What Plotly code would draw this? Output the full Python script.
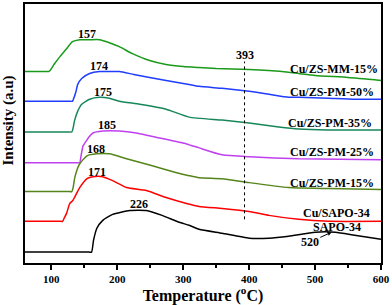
import plotly.graph_objects as go

# ---- data (temperature in °C, intensity in a.u.) ----
t_mm15 = [60, 90, 96, 98, 105, 113, 123, 132, 143, 158, 173, 188, 203, 223, 249, 274, 300, 324, 350, 400, 450, 475, 500, 550, 600]
i_mm15 = [193, 193, 193, 194, 201, 208, 216, 223, 225, 225, 225, 222, 218, 211, 204, 200, 198, 197, 196, 195, 193, 191, 189, 187, 184]

t_pm50 = [60, 127, 132, 134, 137, 140, 146, 158, 173, 188, 203, 225, 249, 274, 300, 324, 359, 400, 430, 460, 475, 520, 560, 600]
i_pm50 = [163, 163, 163, 166, 172, 180, 186, 191, 193, 193, 193, 190, 187, 184, 181, 178, 176, 173, 170, 167, 167, 166, 165, 165]

t_pm35 = [60, 126, 131, 133, 135, 140, 146, 158, 173, 188, 203, 234, 274, 309, 359, 400, 445, 475, 520, 600]
i_pm35 = [132, 132, 132, 136, 143, 153, 160, 165, 167, 166, 163, 160, 155, 147, 144, 141, 137, 135, 134, 134]

t_pm25 = [60, 139, 143, 145, 148, 151, 157, 163, 178, 203, 229, 264, 305, 324, 359, 400, 475, 600]
i_pm25 = [101, 101, 101, 108, 118, 121, 127, 131, 133, 133, 131, 126, 120, 116, 109, 107, 105, 104]

t_pm15 = [60, 126, 131, 133, 135.5, 139, 143, 154, 169, 188, 214, 253, 290, 309, 324, 359, 400, 460, 521, 600]
i_pm15 = [72, 72, 72, 76, 86, 94, 100, 108, 110, 110, 105, 98, 91, 88, 86, 85, 81, 76, 75, 74]

t_cusapo = [60, 112, 117, 120, 123, 128, 132.5, 143, 154, 163, 178, 193, 214, 244, 274, 305, 324, 359, 400, 430, 475, 521, 600]
i_cusapo = [42, 42, 42, 46, 50, 60, 63, 76, 85, 87, 87, 83, 76, 73, 66, 60, 57, 55, 52, 48, 44, 42, 42]

t_sapo = [60, 157, 161, 164, 169, 178, 193, 219, 244, 268, 294, 309, 324, 359, 400, 430, 460, 500, 531, 560, 600]
i_sapo = [11, 11, 11, 23, 35, 43, 49, 53, 53, 48, 41, 38, 34, 30, 25, 25, 27, 31, 31, 28, 24]

series_names = ["Cu/ZS-MM-15%", "Cu/ZS-PM-50%", "Cu/ZS-PM-35%", "Cu/ZS-PM-25%",
                "Cu/ZS-PM-15%", "Cu/SAPO-34", "SAPO-34"]
series_t = [t_mm15, t_pm50, t_pm35, t_pm25, t_pm15, t_cusapo, t_sapo]
series_i = [i_mm15, i_pm50, i_pm35, i_pm25, i_pm15, i_cusapo, i_sapo]
colors = ["#1a9a1a", "#1f3cff", "#17875a", "#c040f0", "#55851a", "#ff0000", "#000000"]

# series labels at right (x right edge, y centre)
label_x = [598, 592, 590, 592, 592, 587, 572]
label_y = [195, 172, 141, 112, 81, 50, 36]

# peak temperatures and label positions
peak_text = ["157", "174", "175", "185", "168", "171", "226"]
peak_x = [154, 172.5, 178.5, 184, 168, 169.5, 233]
peak_y = [231, 199, 172, 139.5, 114.5, 92, 59]

line_393_t = 393
line_393_y = [44, 203]
x_ticks = [100, 200, 300, 400, 500, 600]

font_family = "Liberation Serif, Times New Roman, serif"

fig = go.Figure()
for t, i, c, n in zip(series_t, series_i, colors, series_names):
    fig.add_trace(go.Scatter(x=t, y=i, mode="lines", name=n,
                             line=dict(color=c, width=1.5, shape="spline", smoothing=0.5),
                             showlegend=False, hoverinfo="skip"))

fig.add_trace(go.Scatter(x=[line_393_t, line_393_t], y=line_393_y, mode="lines",
                         line=dict(color="black", width=1, dash="dot"),
                         showlegend=False, hoverinfo="skip"))

annos = []
for n, x, y in zip(series_names, label_x, label_y):
    annos.append(dict(x=x, y=y, text="<b>%s</b>" % n, showarrow=False,
                      xanchor="right", yanchor="middle",
                      font=dict(family=font_family, size=12, color="black")))
for s, x, y in zip(peak_text, peak_x, peak_y):
    annos.append(dict(x=x, y=y, text="<b>%s</b>" % s, showarrow=False,
                      xanchor="center", yanchor="middle",
                      font=dict(family=font_family, size=12, color="black")))
annos.append(dict(x=line_393_t, y=210, text="<b>393</b>", showarrow=False,
                  xanchor="center", yanchor="middle",
                  font=dict(family=font_family, size=12, color="black")))
annos.append(dict(x=525, y=31, ax=492, ay=21, axref="x", ayref="y",
                  text="<b>520</b>", showarrow=True, arrowhead=2, arrowsize=0.8,
                  arrowwidth=1, arrowcolor="black", standoff=0,
                  font=dict(family=font_family, size=12, color="black")))
annos.append(dict(x=-0.045, y=0.55, xref="paper", yref="paper",
                  text="<b>Intensity (a.u)</b>", textangle=-90, showarrow=False,
                  xanchor="center", yanchor="middle",
                  font=dict(family=font_family, size=15, color="black")))

fig.update_layout(
    width=392, height=305,
    margin=dict(l=25, r=10, t=2, b=42),
    paper_bgcolor="white", plot_bgcolor="white",
    annotations=annos,
    font=dict(family=font_family, color="black"),
    xaxis=dict(range=[60, 600], tickvals=x_ticks,
               ticktext=["<b>%d</b>" % v for v in x_ticks],
               tickfont=dict(family=font_family, size=11, color="black"),
               ticks="outside", ticklen=5, tickwidth=1.5, tickcolor="black",
               minor=dict(ticks="outside", ticklen=3, tickwidth=1.5, dtick=50,
                          tick0=0, tickcolor="black"),
               showline=True, linecolor="black", linewidth=1.5, mirror=True,
               showgrid=False, zeroline=False,
               title=dict(text="<b>Temperature (<sup>o</sup>C)</b>", standoff=6,
                          font=dict(family=font_family, size=16, color="black"))),
    yaxis=dict(range=[0, 261], showticklabels=False, ticks="",
               showline=True, linecolor="black", linewidth=1.5, mirror=True,
               showgrid=False, zeroline=False),
)

fig.write_html("out.html", config={"displayModeBar": False},
               post_script="document.body.style.margin='0';document.body.style.padding='0';")
